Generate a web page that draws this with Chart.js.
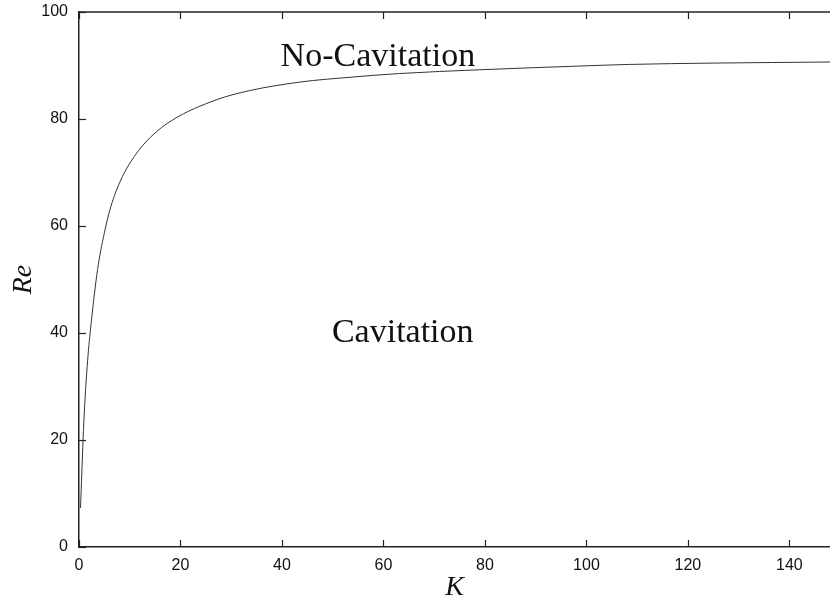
<!DOCTYPE html>
<html>
<head>
<meta charset="utf-8">
<script src="https://cdn.jsdelivr.net/npm/chart.js@4.4.0/dist/chart.umd.min.js"></script>
<style>
  html, body { margin: 0; padding: 0; background: #fff; }
  #wrap { width: 830px; height: 604px; }
</style>
</head>
<body>
<div id="wrap"><canvas id="reChart" width="830" height="604"></canvas></div>
<script>
// values
const kValues = [0.3, 0.8, 1.12, 1.78, 2.46, 3.65, 4.97, 6.27, 8.24, 10.9, 14.2, 18.4, 27.1, 33.6, 43.5, 53.4, 63.2, 79, 98.7, 108.5, 125, 148];
const reValues = [7.3, 20, 26.5, 35.8, 42.4, 51.8, 58.6, 63.6, 68.6, 73.0, 76.7, 79.8, 83.6, 85.3, 86.9, 87.8, 88.5, 89.2, 89.9, 90.2, 90.45, 90.65];

const regionLabels = ["No-Cavitation", "Cavitation"];
const regionK = [58.9, 63.8];
const regionRe = [91.6, 40];

const xTickStep = 20;
const yTickStep = 20;

const points = kValues.map((k, i) => ({ x: k, y: reValues[i] }));

// inner tick marks + top frame line + region labels
const frameAndLabels = {
  id: "frameAndLabels",
  afterDraw(chart) {
    const ctx = chart.ctx;
    const area = chart.chartArea;
    const xs = chart.scales.x;
    const ys = chart.scales.y;
    ctx.save();
    ctx.strokeStyle = "#222";
    ctx.lineWidth = 1.5;
    ctx.beginPath();
    ctx.moveTo(area.left, area.top);
    ctx.lineTo(area.right, area.top);
    ctx.stroke();

    ctx.lineWidth = 1.2;
    xs.ticks.forEach(t => {
      const px = Math.round(xs.getPixelForValue(t.value)) + 0.5;
      ctx.beginPath();
      ctx.moveTo(px, area.bottom);
      ctx.lineTo(px, area.bottom - 7);
      ctx.moveTo(px, area.top);
      ctx.lineTo(px, area.top + 7);
      ctx.stroke();
    });
    ys.ticks.forEach(t => {
      const py = Math.round(ys.getPixelForValue(t.value)) + 0.5;
      ctx.beginPath();
      ctx.moveTo(area.left, py);
      ctx.lineTo(area.left + 7, py);
      ctx.stroke();
    });

    ctx.fillStyle = "#111";
    ctx.font = "34px 'Liberation Serif', 'Times New Roman', serif";
    ctx.textAlign = "center";
    ctx.textBaseline = "middle";
    regionLabels.forEach((txt, i) => {
      ctx.fillText(txt, xs.getPixelForValue(regionK[i]), ys.getPixelForValue(regionRe[i]));
    });
    ctx.restore();
  }
};

const ctx = document.getElementById("reChart").getContext("2d");

new Chart(ctx, {
  type: "scatter",
  data: {
    datasets: [
      {
        data: points,
        showLine: true,
        borderColor: "#333",
        borderWidth: 1,
        pointRadius: 0,
        cubicInterpolationMode: "monotone",
        fill: false,
      },
    ],
  },
  options: {
    responsive: false,
    animation: false,
    layout: { padding: { top: 12, right: 0, left: 0, bottom: 0 } },
    plugins: {
      legend: { display: false },
      tooltip: { enabled: false },
    },
    scales: {
      x: {
        type: "linear",
        min: 0,
        max: 148,
        afterFit(scale) {
          scale.height = 57;
          scale.paddingLeft = 0;
          scale.paddingRight = 0;
        },
        afterBuildTicks(scale) {
          scale.ticks = scale.ticks.filter(t => t.value % xTickStep === 0);
        },
        ticks: {
          stepSize: xTickStep,
          includeBounds: false,
          autoSkip: false,
          color: "#111",
          padding: 9,
          maxRotation: 0,
          font: { family: "'Liberation Sans', Arial, sans-serif", size: 16 },
        },
        grid: { display: false, drawTicks: false },
        border: { display: true, color: "#222", width: 1.5 },
        title: {
          display: true,
          text: "K",
          color: "#111",
          padding: { top: 2, bottom: 0 },
          font: { family: "'Liberation Serif', 'Times New Roman', serif", size: 28, style: "italic" },
        },
      },
      y: {
        min: 0,
        max: 100,
        afterFit(scale) {
          scale.width = 79;
          scale.paddingTop = 0;
          scale.paddingBottom = 0;
        },
        ticks: {
          stepSize: yTickStep,
          autoSkip: false,
          color: "#111",
          padding: 11,
          font: { family: "'Liberation Sans', Arial, sans-serif", size: 16 },
        },
        grid: { display: false, drawTicks: false },
        border: { display: true, color: "#222", width: 1.5 },
        title: {
          display: true,
          text: "Re",
          color: "#111",
          padding: { top: 7, bottom: 0 },
          font: { family: "'Liberation Serif', 'Times New Roman', serif", size: 28, style: "italic" },
        },
      },
    },
  },
  plugins: [frameAndLabels],
});
</script>
</body>
</html>
